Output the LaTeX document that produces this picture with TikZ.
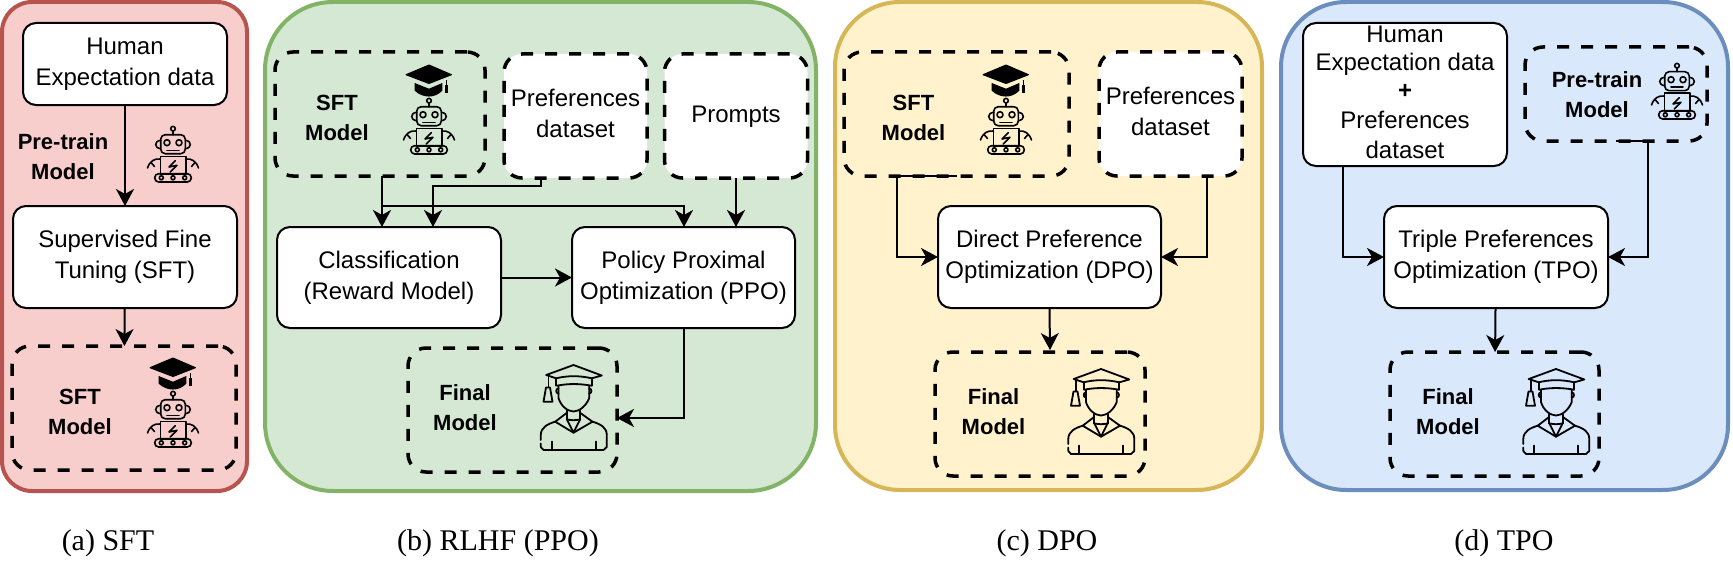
\documentclass[tikz,border=0pt]{standalone}
\usepackage{fontspec}
\setmainfont{Liberation Sans}
\newfontfamily\capfont{Liberation Serif}
\usetikzlibrary{arrows.meta}
\definecolor{redfill}{HTML}{F8CECC}
\definecolor{redline}{HTML}{B85450}
\definecolor{greenfill}{HTML}{D5E8D4}
\definecolor{greenline}{HTML}{82B366}
\definecolor{yellowfill}{HTML}{FFF2CC}
\definecolor{yellowline}{HTML}{D6B656}
\definecolor{bluefill}{HTML}{DAE8FC}
\definecolor{blueline}{HTML}{6C8EBF}
\tikzset{
  panel/.style={rectangle, draw, line width=4pt, outer sep=0pt, inner sep=0pt},
  boxtext/.style={align=center, font=\fontsize{24}{30.7}\selectfont,
    execute at begin node={\rule{0pt}{22pt}}, execute at end node={\rule[-5pt]{0pt}{5pt}}},
  solidbox/.style 2 args={rectangle, draw, fill=white, line width=2pt, rounded corners=13pt, outer sep=0pt, inner sep=0pt,
    minimum width=#1pt, minimum height=#2pt, boxtext},
  dashbox/.style 2 args={rectangle, draw, line width=3.5pt, dash pattern=on 12pt off 12pt, rounded corners=18pt, outer sep=0pt, inner sep=0pt,
    minimum width=#1pt, minimum height=#2pt, boxtext},
  modellabel/.style={inner sep=0pt, align=center, font=\fontsize{22}{30}\selectfont\bfseries},
  caption/.style={inner sep=0pt, font=\capfont\fontsize{30}{36}\selectfont},
  arr/.style={line width=2pt, -{Stealth[length=17pt, width=18pt, inset=5pt]}},
  pics/robot/.style={code={
    \begin{scope}[line width=1.6pt, line join=round, line cap=round]
      \draw (0,-25.3) circle (2.3pt);
      \draw (0,-23) -- (0,-19.3);
      \draw[rounded corners=4.5pt] (-12.3,-19.3) rectangle (12.3,-0.3);
      \draw (-12.3,-13.7) .. controls (-19,-13) and (-19,-6) .. (-12.3,-5.3);
      \draw (12.3,-13.7) .. controls (19,-13) and (19,-6) .. (12.3,-5.3);
      \draw (-6,-11.3) circle (3pt);
      \draw (6,-11.3) circle (3pt);
      \draw (-6,-3.7) -- (6,-3.7);
      \draw (-12.7,2.3) rectangle (12.7,19.7);
      \draw (2.3,6.7) -- (-4,13) -- (4,11.3) -- (-2.7,18);
      \draw (-12.7,5) .. controls (-19,4.5) and (-23,7) .. (-25.5,14);
      \draw (12.7,5) .. controls (19,4.5) and (23,7) .. (25.5,14);
      \draw (-22,8.5) -- (-18.5,12.5);
      \draw (22,8.5) -- (18.5,12.5);
      \draw[rounded corners=4pt] (-18.3,19.7) rectangle (18.3,28);
      \foreach \wheelx in {-11.7,0,11.7}
        \draw (\wheelx,23.8) circle (2pt);
    \end{scope}
  }},
  pics/robotcap/.style={code={
    \fill[line join=round, draw, line width=1pt] (0,-61) -- (22.5,-51.3) -- (0,-42.5) -- (-23,-51.3) -- cycle;
    \fill (-14.3,-43) -- (0,-37.3) -- (13.3,-43) -- (13.3,-35.3) .. controls (6,-27.5) and (-6,-27.5) .. (-14.3,-35.3) -- cycle;
    \draw[line width=1pt] (17.6,-46) -- (17.6,-40);
    \fill (16,-41) rectangle (19.3,-32.7);
  }},
  pics/student/.style={code={
    \begin{scope}[line width=1.8pt, line join=round, line cap=round]
      \draw (-27.3,-32.5) -- (0,-42.5) -- (28.3,-32) -- (18.3,-29.2) .. controls (6,-32) and (-6,-32) .. (-17.3,-29.2) -- cycle;
      \draw (-17.3,-29.2) -- (-17.3,-21.8) (18.3,-29.2) -- (18.3,-21.8);
      \draw (-16.5,-21.8) .. controls (-6,-24) and (6,-24) .. (18,-21.8);
      \draw (-25,-31.8) -- (-25,-20.5);
      \draw (-27.5,-20) -- (-23.5,-20) -- (-21,-5.8) -- (-30,-5.8) -- cycle;
      \draw (-15,-21.8) -- (-15,-9.5) .. controls (-13,-2) and (-6,4) .. (0,4) .. controls (6,4) and (13,-2) .. (15.7,-9.5) -- (15.7,-21.8);
      \draw (-15,-19) .. controls (-18,-19) and (-18,-14) .. (-15,-14);
      \draw (15.7,-19) .. controls (18.7,-19) and (18.7,-14) .. (15.7,-14);
      \draw (-7.3,5.8) -- (-18.3,14.2) -- (0,25.2) -- (19,14.2) -- (7.3,5.8);
      \draw (-6.7,11.8) -- (0,25.2) -- (6.7,11.8);
      \draw (-6.7,11.8) .. controls (-3,13) and (3,13) .. (6.7,11.8);
      \draw (-6.7,3) -- (-6.7,11.8) (6.7,3) -- (6.7,11.8);
      \draw (-18.3,14.2) .. controls (-26,16.5) and (-32.7,20) .. (-32.7,27.5) -- (-32.7,32.5);
      \draw (-32.7,36) -- (-32.7,39.5) -- (-30,42.5) -- (30,42.5) -- (33.3,39.5) -- (33.3,27.5) .. controls (33.3,20) and (27,16.5) .. (19,14.2);
      \draw (-21.7,34) -- (-21.7,42.5) (22.3,34) -- (22.3,42.5);
    \end{scope}
  }}
}
\begin{document}
\begin{tikzpicture}[x=1pt, y=-1pt]
  \useasboundingbox (0,0) rectangle (1733,578);
  % panels
  \node (pa) at (124.5,246.5) [panel, fill=redfill, draw=redline, rounded corners=30pt, minimum width=245pt, minimum height=489pt] {};
  \node (pb) at (540.5,246.5) [panel, fill=greenfill, draw=greenline, rounded corners=68pt, minimum width=551pt, minimum height=489pt] {};
  \node (pc) at (1048.5,246) [panel, fill=yellowfill, draw=yellowline, rounded corners=65pt, minimum width=427pt, minimum height=488pt] {};
  \node (pd) at (1504.5,246) [panel, fill=bluefill, draw=blueline, rounded corners=65pt, minimum width=447pt, minimum height=488pt] {};
  % (a) SFT
  \node (a1) at (125,64) [solidbox={204}{82}] {Human\\Expectation data};
  \node (a2) at (125,257) [solidbox={224}{102}] {Supervised Fine\\Tuning (SFT)};
  \node (a3) at (124,408) [dashbox={224}{124}] {};
  \node (a4) at (63,157) [modellabel] {Pre-train\\Model};
  \node (a5) at (80,412) [modellabel] {SFT\\Model};
  \pic at (173,154) {robot};
  \pic at (173,419) {robot};
  \pic at (173,419) {robotcap};
  % (b) RLHF (PPO)
  \node (b1) at (380,114) [dashbox={210}{124}] {};
  \node (b2) at (575.5,116) [dashbox={143}{124}, fill=white] {Preferences\\dataset};
  \node (b3) at (736,116) [dashbox={143}{124}, fill=white] {\raisebox{1.8pt}{Prompts}};
  \node (b4) at (389,277.5) [solidbox={224}{101}] {Classification\\(Reward Model)};
  \node (b5) at (683.5,277.5) [solidbox={223}{101}] {Policy Proximal\\Optimization (PPO)};
  \node (b6) at (512.5,410) [dashbox={209}{124}] {};
  \node (b7) at (337,118) [modellabel] {SFT\\Model};
  \node (b8) at (465,408) [modellabel] {Final\\Model};
  \pic at (429,126) {robot};
  \pic at (429,126) {robotcap};
  \pic at (573.5,407.5) {student};
  \coordinate (b1a) at (382,176);
  \coordinate (b4a) at (382,227);
  \coordinate (b2a) at (541,178);
  \coordinate (b2b) at (433,186);
  \coordinate (b4b) at (433,227);
  \coordinate (b1b) at (382,206);
  \coordinate (b5a) at (684,227);
  \coordinate (b5b) at (684,328);
  \coordinate (b6a) at (617,418);
  \draw[arr] (b1a) -- (b4a);
  \draw[arr] (b2a) |- (b2b) -- (b4b);
  \draw[arr] (b1b) -| (b5a);
  \draw[arr] (b3.south) -- (b3.south |- b5.north);
  \draw[arr] (b5b) |- (b6a);
  % (c) DPO
  \node (c1) at (956.5,114) [dashbox={225}{124}] {};
  \node (c2) at (1170.5,114) [dashbox={143}{124}, fill=white] {Preferences\\dataset};
  \node (c3) at (1049.5,257) [solidbox={223}{102}] {Direct Preference\\Optimization (DPO)};
  \node (c4) at (1040,414) [dashbox={210}{124}] {};
  \node (c5) at (913.5,118) [modellabel] {SFT\\Model};
  \node (c6) at (993.5,412) [modellabel] {Final\\Model};
  \pic at (1006,126) {robot};
  \pic at (1006,126) {robotcap};
  \pic at (1101,411.5) {student};
  \coordinate (c1a) at (897,176);
  \coordinate (c2a) at (1206.5,176);
  \coordinate (c4a) at (1050,350);
  \draw[arr] (c1.south) -- (c1a) |- (c3.west);
  \draw[arr] (c2a) |- (c3.east);
  \draw[arr] (c3.south) -- (c4a);
  % (d) TPO
  \node (d1) at (1405,94.5) [solidbox={204}{143}] {Human\\[-2.5pt]Expectation data\\[-3pt]\textbf{+}\\Preferences\\[-1.5pt]dataset};
  \node (d2) at (1616,94) [dashbox={182}{94}] {};
  \node (d3) at (1496,257) [solidbox={224}{102}] {Triple Preferences\\Optimization (TPO)};
  \node (d4) at (1494.5,414) [dashbox={209}{124}] {};
  \node (d5) at (1597,95) [modellabel] {Pre-train\\Model};
  \node (d6) at (1448,412) [modellabel] {Final\\Model};
  \pic at (1677,91) {robot};
  \pic at (1556,411.5) {student};
  \coordinate (d1a) at (1343,166);
  \coordinate (d2a) at (1648,141);
  \draw[arr] (d1a) |- (d3.west);
  \draw[arr] (d2.south) -- (d2a) |- (d3.east);
  % straight connectors
  \foreach \source/\dest in {a1/a2, a2/a3, b4/b5, d3/d4}
    \path[arr] (\source) edge (\dest);
  % captions
  \node (e1) at (108,543) [caption] {(a) SFT};
  \node (e2) at (498,543) [caption] {(b) RLHF (PPO)};
  \node (e3) at (1047,543) [caption] {(c) DPO};
  \node (e4) at (1504,543) [caption] {(d) TPO};
\end{tikzpicture}
\end{document}
